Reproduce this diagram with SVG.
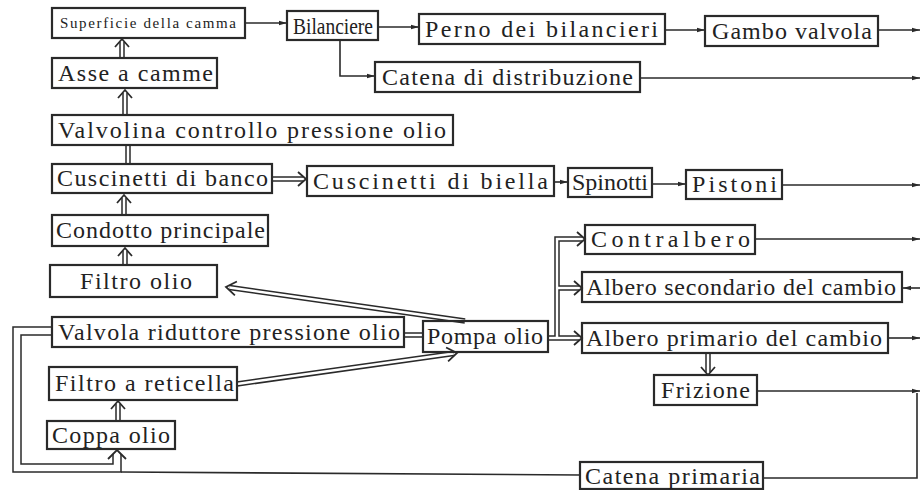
<svg xmlns="http://www.w3.org/2000/svg" width="922" height="490" viewBox="0 0 922 490">
<style>
.bg{fill:#fff}
.box{fill:none;stroke:#2a2a2a;stroke-width:2.2}
.t{font-family:"Liberation Serif","Times New Roman",serif;font-size:24px;fill:#222}
.ts{font-family:"Liberation Serif","Times New Roman",serif;font-size:15px;fill:#222}
.s{fill:none;stroke:#2a2a2a;stroke-width:1.6;marker-end:url(#ah)}
.p{fill:none;stroke:#2a2a2a;stroke-width:1.6}
.dO{fill:none;stroke:#2a2a2a;stroke-width:5.5}
.dI{fill:none;stroke:#fff;stroke-width:2.5}
.wO{fill:none;stroke:#2a2a2a;stroke-width:9.5}
.wI{fill:none;stroke:#fff;stroke-width:6.5}
.ch{fill:none;stroke:#2a2a2a;stroke-width:1.8;stroke-linejoin:miter}
</style>
<defs>
<marker id="ah" markerWidth="8" markerHeight="6" refX="8" refY="3" orient="auto" markerUnits="userSpaceOnUse">
<path d="M0,0.8 L8,3 L0,5.2 z" fill="#2a2a2a"/>
</marker>
</defs>
<rect class="bg" x="0" y="0" width="922" height="490"/>
<g id="connectors">
<path class="s" d="M245,23 H287"/>
<path class="s" d="M378,27 H419"/>
<path class="s" d="M665,30 H705"/>
<path class="s" d="M878,30 H920"/>
<path class="s" d="M340,40 V76 H375"/>
<path class="s" d="M640,78 H920"/>
<path class="s" d="M554,182 H568"/>
<path class="s" d="M652,184 H686"/>
<path class="s" d="M782,185 H920"/>
<path class="s" d="M755,239 H920"/>
<path class="s" d="M920,288 H903"/>
<path class="s" d="M888,338 H920"/>
<path class="s" d="M757,391 H920"/>
<path class="p" d="M917,393 V478 H763"/>
<path class="p" d="M580,475 L121,472"/>
<path class="dO" d="M122,58 V42"/>
<path class="dO" d="M125,115 V93"/>
<path class="dO" d="M128,164 V145"/>
<path class="dO" d="M124,215 V198"/>
<path class="dO" d="M125,265 V251"/>
<path class="dO" d="M118,421 V404"/>
<path class="dO" d="M272,179 H303"/>
<path class="dO" d="M404,335 H423"/>
<path class="dO" d="M548,338 H579"/>
<path class="dO" d="M557,338 V239 H582"/>
<path class="dO" d="M557,288 H579"/>
<path class="dO" d="M708,353 V372"/>
<path class="dO" d="M465,321 L229.5,287.5"/>
<path class="dO" d="M237,384 L453.5,353.5"/>
<path class="wO" d="M52,331 H17 V468 H117 V454"/>
<path class="dI" d="M122,58 V42"/>
<path class="dI" d="M125,115 V93"/>
<path class="dI" d="M128,164 V145"/>
<path class="dI" d="M124,215 V198"/>
<path class="dI" d="M125,265 V251"/>
<path class="dI" d="M118,421 V404"/>
<path class="dI" d="M272,179 H303"/>
<path class="dI" d="M404,335 H423"/>
<path class="dI" d="M548,338 H579"/>
<path class="dI" d="M557,338 V239 H582"/>
<path class="dI" d="M557,288 H579"/>
<path class="dI" d="M708,353 V372"/>
<path class="dI" d="M465,321 L229.5,287.5"/>
<path class="dI" d="M237,384 L453.5,353.5"/>
<path class="wI" d="M52,331 H17 V468 H117 V454"/>
<polyline class="ch" points="115,47 122,39 129,47"/>
<polyline class="ch" points="118,98 125,90 132,98"/>
<polyline class="ch" points="117,203 124,195 131,203"/>
<polyline class="ch" points="118,256 125,248 132,256"/>
<polyline class="ch" points="111,409 118,401 125,409"/>
<polyline class="ch" points="108,459 117,450 126,459"/>
<polyline class="ch" points="298,172 306,179 298,186"/>
<polyline class="ch" points="574,331 582,338 574,345"/>
<polyline class="ch" points="577,232 585,239 577,246"/>
<polyline class="ch" points="574,281 582,288 574,295"/>
<polyline class="ch" points="701,367 708,375 715,367"/>
<polyline class="ch" points="236.9,281.5 226,287 234.9,295.3"/>
<polyline class="ch" points="448.1,361.3 457,353 446.1,347.5"/>
</g>
<g id="superficie"><rect class="box" x="52" y="8" width="193" height="30"/><text class="ts" x="60" y="28" textLength="176" lengthAdjust="spacing">Superficie della camma</text></g>
<g id="bilanciere"><rect class="box" x="287" y="11" width="91" height="29"/><text class="t" x="293" y="34" textLength="80" lengthAdjust="spacingAndGlyphs">Bilanciere</text></g>
<g id="perno"><rect class="box" x="419" y="14" width="246" height="30"/><text class="t" x="425" y="37" textLength="233" lengthAdjust="spacing">Perno dei bilancieri</text></g>
<g id="gambo"><rect class="box" x="705" y="16" width="173" height="30"/><text class="t" x="712" y="39" textLength="160" lengthAdjust="spacing">Gambo valvola</text></g>
<g id="catena-distribuzione"><rect class="box" x="375" y="62" width="265" height="30"/><text class="t" x="382" y="85" textLength="251" lengthAdjust="spacing">Catena di distribuzione</text></g>
<g id="asse"><rect class="box" x="52" y="58" width="165" height="30"/><text class="t" x="58" y="81" textLength="155" lengthAdjust="spacing">Asse a camme</text></g>
<g id="valvolina"><rect class="box" x="52" y="115" width="401" height="30"/><text class="t" x="58" y="138" textLength="388" lengthAdjust="spacing">Valvolina controllo pressione olio</text></g>
<g id="cuscinetti-banco"><rect class="box" x="52" y="164" width="220" height="29"/><text class="t" x="57" y="186" textLength="211" lengthAdjust="spacing">Cuscinetti di banco</text></g>
<g id="cuscinetti-biella"><rect class="box" x="307" y="166" width="247" height="30"/><text class="t" x="313" y="189" textLength="235" lengthAdjust="spacing">Cuscinetti di biella</text></g>
<g id="spinotti"><rect class="box" x="568" y="168" width="84" height="29"/><text class="t" x="572" y="190" textLength="76" lengthAdjust="spacingAndGlyphs">Spinotti</text></g>
<g id="pistoni"><rect class="box" x="686" y="170" width="96" height="29"/><text class="t" x="692" y="192" textLength="85" lengthAdjust="spacing">Pistoni</text></g>
<g id="condotto"><rect class="box" x="52" y="215" width="216" height="31"/><text class="t" x="56" y="238" textLength="209" lengthAdjust="spacing">Condotto principale</text></g>
<g id="filtro-olio"><rect class="box" x="50" y="265" width="167" height="32"/><text class="t" x="80" y="289" textLength="112" lengthAdjust="spacing">Filtro olio</text></g>
<g id="contralbero"><rect class="box" x="585" y="225" width="170" height="29"/><text class="t" x="591" y="247" textLength="159" lengthAdjust="spacing">Contralbero</text></g>
<g id="albero-secondario"><rect class="box" x="582" y="272" width="320" height="30"/><text class="t" x="586" y="295" textLength="310" lengthAdjust="spacing">Albero secondario del cambio</text></g>
<g id="albero-primario"><rect class="box" x="582" y="323" width="306" height="30"/><text class="t" x="586" y="346" textLength="296" lengthAdjust="spacing">Albero primario del cambio</text></g>
<g id="valvola-riduttore"><rect class="box" x="52" y="317" width="352" height="30"/><text class="t" x="58" y="340" textLength="342" lengthAdjust="spacing">Valvola riduttore pressione olio</text></g>
<g id="pompa"><rect class="box" x="423" y="321" width="125" height="31"/><text class="t" x="427" y="344" textLength="116" lengthAdjust="spacing">Pompa olio</text></g>
<g id="filtro-reticella"><rect class="box" x="49" y="367" width="188" height="33"/><text class="t" x="55" y="391" textLength="179" lengthAdjust="spacing">Filtro a reticella</text></g>
<g id="frizione"><rect class="box" x="654" y="375" width="103" height="30"/><text class="t" x="661" y="398" textLength="89" lengthAdjust="spacing">Frizione</text></g>
<g id="coppa"><rect class="box" x="47" y="421" width="128" height="28"/><text class="t" x="52" y="443" textLength="118" lengthAdjust="spacing">Coppa olio</text></g>
<g id="catena-primaria"><rect class="box" x="580" y="462" width="183" height="27"/><text class="t" x="585" y="484" textLength="175" lengthAdjust="spacing">Catena primaria</text></g>
</svg>
